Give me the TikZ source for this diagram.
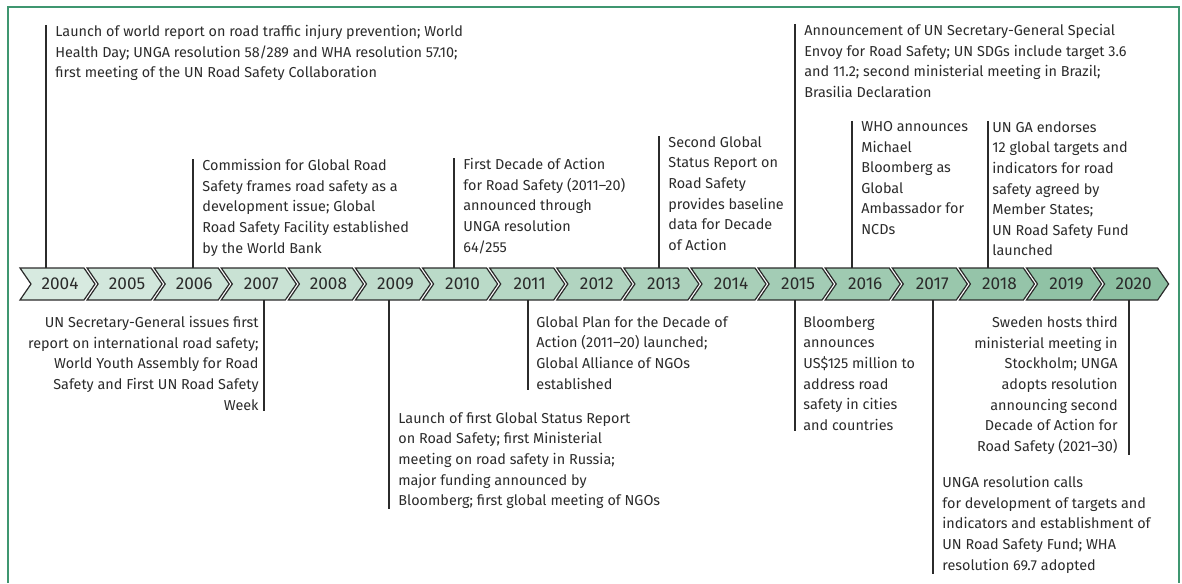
\documentclass[tikz,border=0pt]{standalone}
\usepackage{fontspec}
\setmainfont{Fira Sans}
\usepackage{tikz}
\usetikzlibrary{positioning,calc}
\definecolor{frameGreen}{HTML}{3F9670}
\definecolor{chevLight}{HTML}{D7EAE0}
\definecolor{chevDark}{HTML}{8CBFA1}
\definecolor{inkGrey}{HTML}{2B2B2B}

\begin{document}
\begin{tikzpicture}[x=0.5pt, y=-0.5pt,
    every node/.style={font=\fontsize{7.2}{10.3}\selectfont, text=inkGrey},
    chevron/.style={draw=inkGrey, line width=0.6pt, line join=miter},
    yearlbl/.style={minimum height=15.5pt, inner sep=0pt, font=\fontsize{8.6}{10}\selectfont},
    event/.style={align=left, anchor=north west, inner xsep=4.5pt, inner ysep=0pt},
    eventR/.style={align=right, anchor=north east, inner xsep=4.5pt, inner ysep=0pt},
    leader/.style={draw=inkGrey, line width=0.7pt}]
  \useasboundingbox (0,0) rectangle (1182,583);
  \draw[frameGreen, line width=1pt] (8,583) -- (8,7) -- (1179,7) -- (1179,583);

  % the years
  \foreach \yr [count=\i from 0] in {2004,...,2020}{
    \pgfmathsetmacro\cx{20+67.1*\i}
    \pgfmathtruncatemacro\shade{100-100*\i/16}
    \draw[chevron, fill=chevLight!\shade!chevDark] (\cx,268) -- ++(64,0) -- ++(11,16) -- ++(-11,16)
      -- ++(-64,0) -- ++(11,-16) -- cycle;
    \node[yearlbl] (y\yr) at (\cx+40,284) {\yr};
  }

  % above the line
  \node[event] (e2004) at (46,25) {Launch of world report on road traffic injury prevention; World\\
    Health Day; UNGA resolution 58/289 and WHA resolution 57.10;\\
    first meeting of the UN Road Safety Collaboration};
  \node[event] (e2006) at (193,159) {Commission for Global Road\\Safety frames road safety as a\\
    development issue; Global\\Road Safety Facility established\\by the World Bank};
  \node[event] (e2010) at (454,158) {First Decade of Action\\for Road Safety (2011–20)\\
    announced through\\UNGA resolution\\64/255};
  \node[event] (e2013) at (659,136) {Second Global\\Status Report on\\Road Safety\\
    provides baseline\\data for Decade\\of Action};
  \node[event] (e2015a) at (795,24) {Announcement of UN Secretary-General Special\\
    Envoy for Road Safety; UN SDGs include target 3.6\\
    and 11.2; second ministerial meeting in Brazil;\\Brasilia Declaration};
  \node[event] (e2016) at (852,121) {WHO announces\\Michael\\Bloomberg as\\Global\\
    Ambassador for\\NCDs};
  \node[event, inner xsep=2pt] (e2018) at (988,121) {UN GA endorses\\12 global targets and\\
    indicators for road\\safety agreed by\\Member States;\\UN Road Safety Fund\\launched};

  % below the line
  \node[eventR, inner xsep=2.5pt] (e2007) at (264,316) {UN Secretary-General issues first\\
    report on international road safety;\\World Youth Assembly for Road\\
    Safety and First UN Road Safety\\Week};
  \node[event] (e2009) at (389,412) {Launch of first Global Status Report\\
    on Road Safety; first Ministerial\\meeting on road safety in Russia;\\
    major funding announced by\\Bloomberg; first global meeting of NGOs};
  \node[event, inner xsep=4pt] (e2011) at (528,316) {Global Plan for the Decade of\\
    Action (2011–20) launched;\\Global Alliance of NGOs\\established};
  \node[event, inner xsep=4pt] (e2015b) at (795,316) {Bloomberg\\announces\\US\$125 million to\\
    address road\\safety in cities\\and countries};
  \node[event] (e2017) at (933,476) {UNGA resolution calls\\for development of targets and\\
    indicators and establishment of\\UN Road Safety Fund; WHA\\resolution 69.7 adopted};
  \node[eventR, inner xsep=5.5pt] (e2020) at (1129,316) {Sweden hosts third\\ministerial meeting in\\
    Stockholm; UNGA\\adopts resolution\\announcing second\\Decade of Action for\\
    Road Safety (2021–30)};

  % leaders
  \foreach \ev/\yr in {e2004/y2004, e2006/y2006, e2010/y2010, e2013/y2013,
      e2015a/y2015, e2016/y2016, e2018/y2018}
    \draw[leader] (\ev.north west) -- (\ev.north west |- \yr.north);
  \foreach \ev/\yr in {e2009/y2009, e2011/y2011, e2015b/y2015, e2017/y2017}
    \draw[leader] (\ev.north west |- \yr.south) -- (\ev.south west);
  \foreach \ev/\yr in {e2007/y2007, e2020/y2020}
    \draw[leader] (\ev.north east |- \yr.south) -- (\ev.south east);
\end{tikzpicture}
\end{document}
